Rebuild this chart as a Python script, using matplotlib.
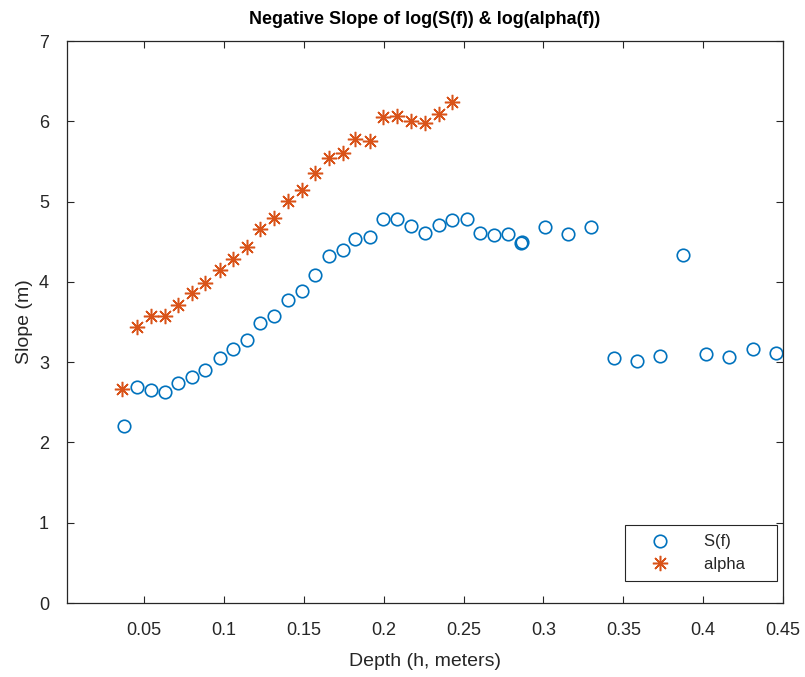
import matplotlib
matplotlib.use('Agg')
import matplotlib.pyplot as plt

# depth values (m)
depth_s = [0.0372, 0.0456, 0.0541, 0.0629, 0.0714, 0.0803, 0.0885, 0.0973, 0.1059, 0.1147,
           0.1226, 0.1314, 0.1402, 0.1486, 0.1572, 0.1656, 0.1744, 0.1823, 0.1915, 0.1999,
           0.2085, 0.2173, 0.2259, 0.2346, 0.2430, 0.2519, 0.2604, 0.2693, 0.2778, 0.2862,
           0.2868, 0.3010, 0.3153, 0.3297, 0.3442, 0.3586, 0.3731, 0.3875, 0.4020, 0.4164,
           0.4309, 0.4453]
slope_s = [2.20, 2.69, 2.65, 2.63, 2.74, 2.82, 2.90, 3.05, 3.17, 3.28,
           3.49, 3.57, 3.78, 3.89, 4.08, 4.32, 4.40, 4.53, 4.56, 4.78,
           4.78, 4.69, 4.61, 4.71, 4.77, 4.78, 4.61, 4.59, 4.60, 4.48,
           4.50, 4.68, 4.60, 4.68, 3.05, 3.02, 3.08, 4.33, 3.10, 3.06,
           3.16, 3.11]

depth_a = [0.0365, 0.0456, 0.0541, 0.0629, 0.0714, 0.0803, 0.0885, 0.0973, 0.1059, 0.1147,
           0.1226, 0.1314, 0.1402, 0.1486, 0.1572, 0.1656, 0.1744, 0.1823, 0.1915, 0.1999,
           0.2085, 0.2173, 0.2259, 0.2346, 0.2430]
slope_a = [2.67, 3.44, 3.57, 3.57, 3.71, 3.86, 3.98, 4.15, 4.29, 4.44,
           4.66, 4.80, 5.01, 5.15, 5.35, 5.54, 5.60, 5.78, 5.76, 6.05,
           6.07, 6.00, 5.98, 6.09, 6.24]

xticks = [0.05, 0.1, 0.15, 0.2, 0.25, 0.3, 0.35, 0.4, 0.45]
xtick_labels = ['0.05', '0.1', '0.15', '0.2', '0.25', '0.3', '0.35', '0.4', '0.45']
yticks = [0, 1, 2, 3, 4, 5, 6, 7]

plt.rcParams['font.family'] = ['Liberation Sans', 'DejaVu Sans']
axcol = '#262626'

fig = plt.figure(figsize=(8.05, 6.77), dpi=100)
ax = fig.add_axes([0.0832, 0.1093, 0.8895, 0.8301])

ax.plot(depth_s, slope_s, 'o', linestyle='none', markerfacecolor='none',
        markeredgecolor='#0072BD', markersize=9, markeredgewidth=1.2, label='S(f)')
# MATLAB-style asterisk: 8 spokes
ax.plot(depth_a, slope_a, marker=(8, 2, 0), linestyle='none', color='#D95319',
        markersize=11, markeredgewidth=1.1, label='alpha')

ax.set_xlim(0.0018, 0.45)
ax.set_ylim(0, 7)
ax.set_xticks(xticks)
ax.set_xticklabels(xtick_labels)
ax.set_yticks(yticks)

ax.tick_params(direction='in', top=True, right=True, length=5, width=0.8,
               colors=axcol, labelsize=13)
ax.tick_params(axis='x', pad=14)
ax.tick_params(axis='y', pad=13)
for sp in ax.spines.values():
    sp.set_color(axcol)
    sp.set_linewidth(0.9)

ax.set_xlabel('Depth (h, meters)', fontsize=14, color=axcol, labelpad=10)
ax.set_ylabel('Slope (m)', fontsize=14, color=axcol, labelpad=4)
ax.set_title('Negative Slope of log(S(f)) & log(alpha(f))', fontsize=13,
             fontweight='bold', color='black', pad=12)

leg = ax.legend(['S(f)     ', 'alpha     '], loc='lower right',
                bbox_to_anchor=(0.9916, 0.039), fontsize=12,
                fancybox=False, framealpha=1, edgecolor=axcol, borderpad=0.55,
                handlelength=3.1, handletextpad=1.1, labelspacing=0.45,
                borderaxespad=0)
leg.get_frame().set_linewidth(0.8)
for t in leg.get_texts():
    t.set_color(axcol)

fig.savefig('out.png', dpi=100)
